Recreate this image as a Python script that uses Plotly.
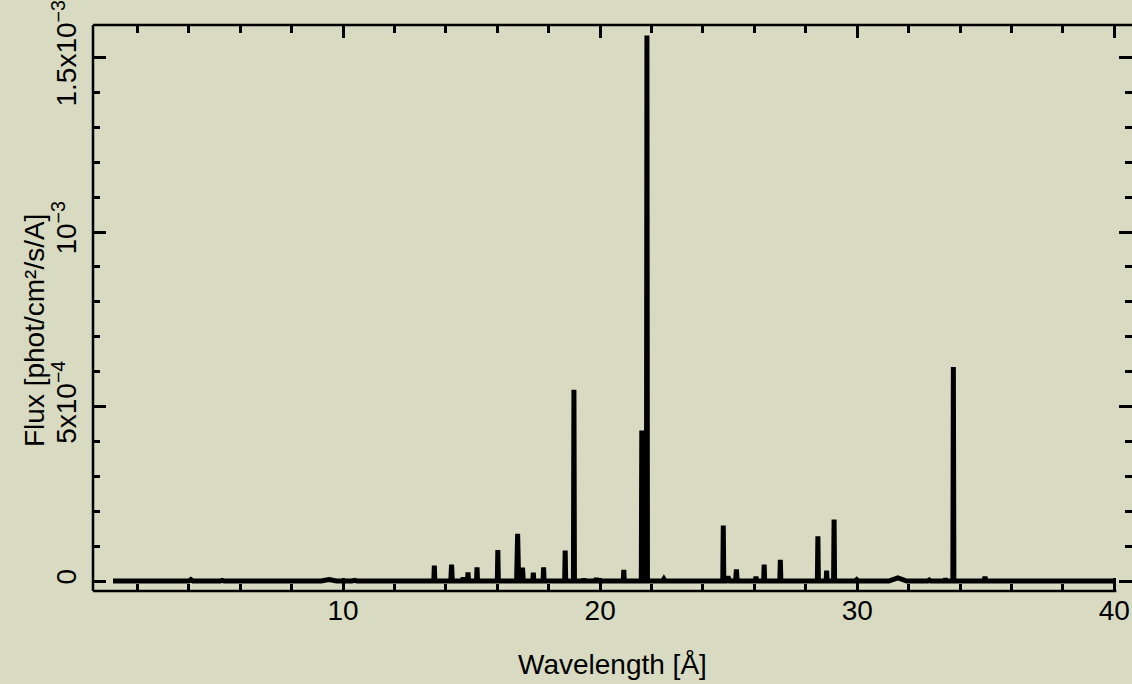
import plotly.graph_objects as go

# ---- data (wavelength in Angstrom, flux in phot/cm^2/s/A) ----
spec_start = 1.05
spec_end = 40.0
line_center = [1.95, 4.08, 5.30, 6.90, 9.45, 10.45, 11.57,
               13.55, 14.22, 14.67, 14.86, 15.21, 16.02, 16.79, 16.98, 17.40, 17.80,
               18.64, 18.98, 19.37, 19.85, 20.92, 21.62, 21.82, 22.48, 23.29, 23.74,
               24.79, 24.97, 25.30, 26.06, 26.38, 27.01, 28.47, 28.81, 29.10, 29.98,
               31.58, 32.80, 33.43, 33.74, 34.97, 35.62, 39.60]
line_peak_e5 = [0.3, 0.4, 0.2, 0.3, 0.4, 0.2, 0.2,
                4.4, 4.7, 1.0, 2.5, 3.9, 8.9, 13.5, 3.8, 2.4, 3.9,
                8.7, 54.8, 0.6, 0.8, 3.2, 43.1, 156.3, 0.6, 0.3, 0.3,
                15.9, 1.2, 3.3, 1.2, 4.7, 6.1, 12.8, 3.0, 17.6, 0.4,
                0.9, 0.3, 0.6, 61.3, 1.2, 0.3, 0.3]
line_halfwidth = [0.08, 0.08, 0.08, 0.10, 0.30, 0.10, 0.10,
                  0.02, 0.03, 0.03, 0.02, 0.02, 0.02, 0.04, 0.03, 0.02, 0.02,
                  0.02, 0.02, 0.03, 0.03, 0.02, 0.02, 0.02, 0.05, 0.05, 0.05,
                  0.02, 0.08, 0.03, 0.03, 0.02, 0.02, 0.02, 0.02, 0.02, 0.06,
                  0.35, 0.06, 0.04, 0.02, 0.04, 0.06, 0.30]

x_ticks = [10, 20, 30, 40]
y_tickvals = [0, 5e-4, 1e-3, 1.5e-3]
y_ticktext = ["0", "5x10<sup>−4</sup>", "10<sup>−3</sup>", "1.5x10<sup>−3</sup>"]

x_range = [0.272, 40.689]
y_range = [-2.865e-5, 1.5931e-3]

# polyline vertices built from the listed features
wl = [spec_start]
fl = [0.0]
for c, p, hw in zip(line_center, line_peak_e5, line_halfwidth):
    wl += [c - hw, c, c + hw]
    fl += [0.0, p * 1e-5, 0.0]
wl.append(spec_end)
fl.append(0.0)

BG = "rgb(216,219,193)"
FONT = "Liberation Sans, Arial, Helvetica, sans-serif"

fig = go.Figure()
fig.add_trace(go.Scatter(x=wl, y=fl, mode="lines",
                         line=dict(color="black", width=5),
                         hoverinfo="skip", showlegend=False))

fig.update_layout(
    width=1132, height=684,
    margin=dict(l=93, r=0, t=25, b=93),
    paper_bgcolor=BG, plot_bgcolor=BG,
    font=dict(family=FONT, size=28, color="black"),
    showlegend=False,
)

fig.update_xaxes(
    range=x_range, tickvals=x_ticks, ticks="inside", ticklen=13, tickwidth=2.5,
    tickcolor="black", showline=False, mirror="ticks", showgrid=False, zeroline=False,
    tickfont=dict(size=28, family=FONT, color="black"), ticklabeloverflow="allow",
    minor=dict(tick0=0, dtick=2, ticks="inside", ticklen=7.5, tickwidth=2.5,
               tickcolor="black", showgrid=False),
)
fig.update_yaxes(
    range=y_range, tickvals=y_tickvals, ticktext=y_ticktext, tickangle=-90,
    ticks="inside", ticklen=13, tickwidth=2.5, tickcolor="black",
    showline=False, mirror="ticks", showgrid=False, zeroline=False,
    tickfont=dict(size=28, family=FONT, color="black"),
    ticklabeloverflow="allow", ticklabelstandoff=10,
    minor=dict(tick0=0, dtick=1e-4, ticks="inside", ticklen=7, tickwidth=2.5,
               tickcolor="black", showgrid=False),
)

# frame lines: left, top (full width) and bottom (ends at the last x tick)
fig.add_shape(type="line", xref="paper", yref="paper", x0=0, x1=0, y0=0, y1=1,
              line=dict(color="black", width=2.5))
fig.add_shape(type="line", xref="paper", yref="paper", x0=0, x1=1, y0=1, y1=1,
              line=dict(color="black", width=2.5))
fig.add_shape(type="line", xref="x", yref="paper", x0=x_range[0], x1=x_ticks[-1] + 0.08,
              y0=0, y1=0, line=dict(color="black", width=2.5))

fig.add_annotation(text="Wavelength [Å]", xref="paper", yref="paper",
                   x=0.5, y=-0.1307, xanchor="center", yanchor="middle",
                   showarrow=False, font=dict(size=28, family=FONT, color="black"))
fig.add_annotation(text="Flux [phot/cm²/s/A]", xref="paper", yref="paper",
                   x=-0.0558, y=0.4594, xanchor="center", yanchor="middle",
                   textangle=-90, showarrow=False,
                   font=dict(size=28, family=FONT, color="black"))

fig.write_html("out.html",
               config={"displayModeBar": False},
               post_script="document.body.style.margin='0';"
                           "document.body.style.overflow='hidden';")
